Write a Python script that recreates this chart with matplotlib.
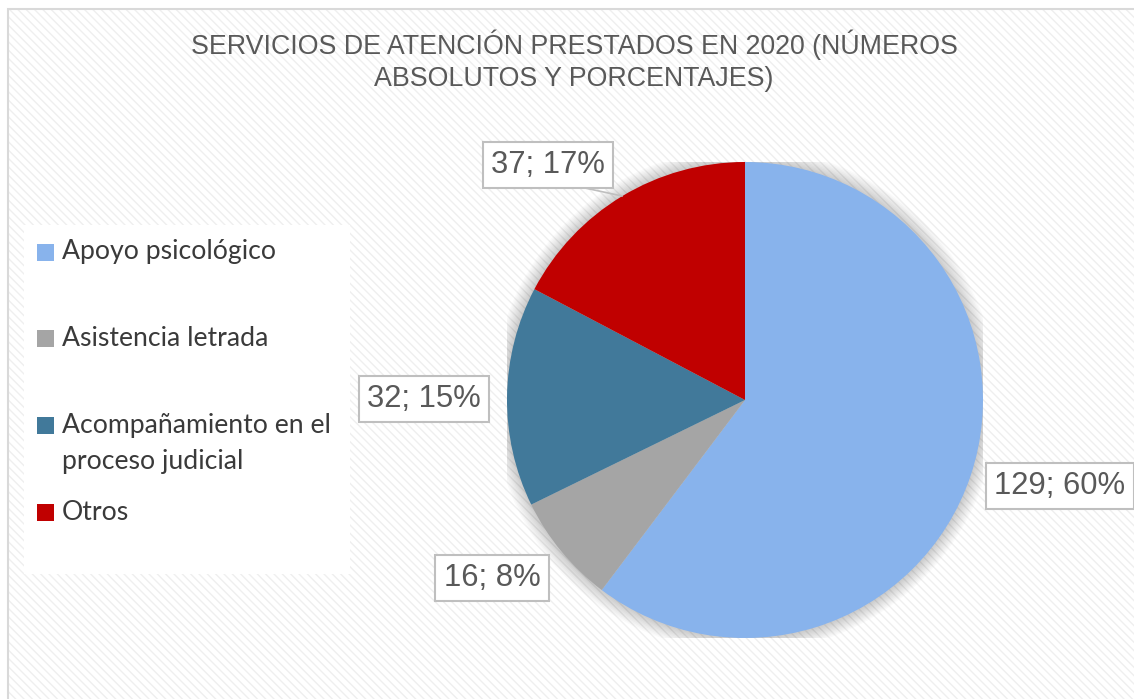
import matplotlib.pyplot as plt
from matplotlib.patches import Rectangle, Circle

# Datos
categorias = ["Apoyo psicológico", "Asistencia letrada",
              "Acompañamiento en el\nproceso judicial", "Otros"]
valores = [129, 16, 32, 37]
porcentajes = [60, 8, 15, 17]
colores = ["#88B3EC", "#A5A5A5", "#41799A", "#C00000"]
titulo = "SERVICIOS DE ATENCIÓN PRESTADOS EN 2020 (NÚMEROS\nABSOLUTOS Y PORCENTAJES)"

W, H = 1134, 699
fig = plt.figure(figsize=(W / 100, H / 100), dpi=100)
fig.patch.set_facecolor("white")

def fx(px):
    return px / W

def fy(py):
    return 1 - py / H

# fondo rayado y marco (el marco sale por la derecha y abajo)
fondo = Rectangle((fx(8), fy(H + 10)), fx(W + 10), fy(9) - fy(H + 10),
                  transform=fig.transFigure, facecolor="white", edgecolor="#EFEFEF",
                  hatch="\\\\\\\\", linewidth=0, zorder=0)
fig.patches.append(fondo)
marco = Rectangle((fx(8), fy(H + 10)), fx(W + 10), fy(9) - fy(H + 10), transform=fig.transFigure,
                  facecolor="none", edgecolor="#D9D9D9", linewidth=1.5, zorder=0.5)
fig.patches.append(marco)

fig.text(fx(574), fy(61), titulo, ha="center", va="center", fontsize=19.3,
         color="#595959", family="Liberation Sans", linespacing=1.3)

# leyenda
caja = Rectangle((fx(24), fy(574)), fx(326), fy(225) - fy(574), transform=fig.transFigure,
                 facecolor="white", edgecolor="none", zorder=1)
fig.patches.append(caja)
filas = [252, 338, 425, 512]
for cat, col, yy in zip(categorias, colores, filas):
    fig.patches.append(Rectangle((fx(37), fy(yy + 8.5)), fx(17), fy(yy - 8.5) - fy(yy + 8.5),
                                 transform=fig.transFigure, facecolor=col,
                                 edgecolor="none", zorder=2))
    for i, linea in enumerate(cat.split("\n")):
        fig.text(fx(62), fy(yy + 37 * i), linea, ha="left", va="center",
                 fontsize=19.2, color="#3A3A3A", family="Lato", zorder=3)

# pastel
r = 238
cx, cy = 745, 400
ax = fig.add_axes([fx(cx - r), fy(cy + r), fx(2 * r), fy(cy - r) - fy(cy + r)])
ax.set_zorder(2)
ax.patch.set_visible(False)
ax.axis("off")

# sombra difusa
for k in range(10):
    ax.add_patch(Circle((0, 0), 1 + 0.006 * (k + 1), facecolor="#000000",
                        alpha=0.02, edgecolor="none", zorder=0))

ax.pie(valores, colors=colores, startangle=90, counterclock=False, radius=1,
       wedgeprops=dict(linewidth=0), center=(0, 0), frame=False)
ax.set_xlim(-1, 1)
ax.set_ylim(-1, 1)

posiciones = [(1060, 486), (492, 578), (424, 399), (548, 165)]
for v, p, (px, py) in zip(valores, porcentajes, posiciones):
    etiqueta = "%d; %d%%" % (v, p)
    fig.text(fx(px), fy(py), etiqueta, ha="center", va="center", fontsize=22.3,
             color="#595959", family="Liberation Sans", zorder=5,
             bbox=dict(boxstyle="square,pad=0.27", facecolor="white",
                       edgecolor="#BFBFBF", linewidth=1.5))

# conector de la etiqueta superior
fig.add_artist(plt.Line2D([fx(585), fx(622)], [fy(188), fy(196)], color="#BFBFBF",
                          linewidth=1.2, zorder=4))

fig.savefig("out.png", dpi=100)
